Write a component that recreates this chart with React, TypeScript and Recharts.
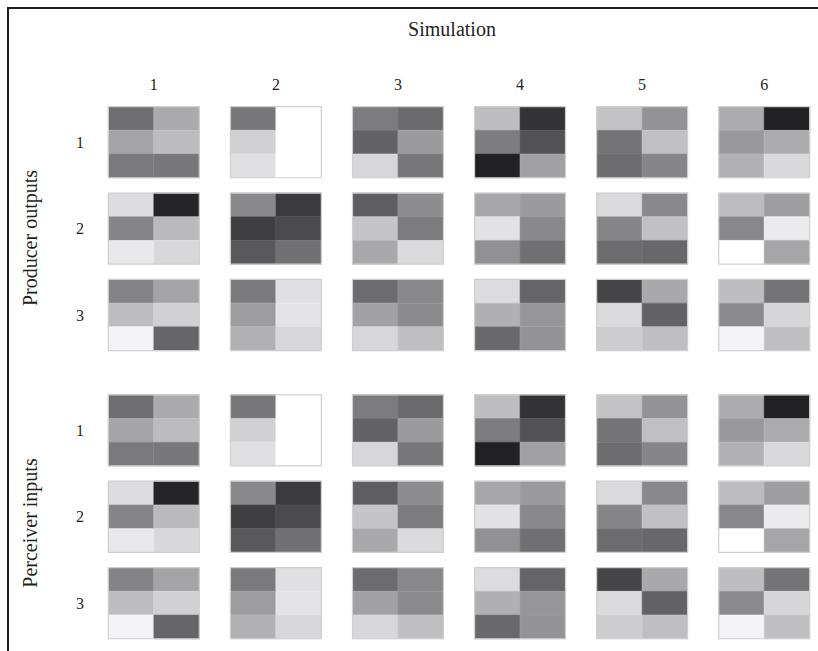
import React from "react";
import { ScatterChart, XAxis, YAxis, ReferenceArea } from "recharts";

const TITLE = "Simulation";
const COLUMNS = ["1", "2", "3", "4", "5", "6"];
const ROW_LABELS = ["1", "2", "3"];
const BLOCK_LABELS = ["Producer outputs", "Perceiver inputs"];

// each cell: 3x2 gray levels (0 = black, 255 = white), row-major
// [top-left, top-right, mid-left, mid-right, bottom-left, bottom-right]
const PRODUCER_ROW_1 = [
  [110, 170, 165, 188, 122, 120],
  [120, 255, 208, 255, 224, 255],
  [124, 107, 99, 155, 215, 120],
  [190, 51, 125, 82, 33, 161],
  [195, 147, 116, 192, 109, 134],
  [172, 33, 153, 171, 177, 217],
];
const PRODUCER_ROW_2 = [
  [221, 37, 133, 186, 232, 216],
  [137, 59, 63, 75, 89, 113],
  [94, 141, 197, 124, 169, 218],
  [167, 155, 226, 137, 145, 112],
  [218, 137, 134, 193, 108, 104],
  [189, 158, 136, 235, 255, 166],
];
const PRODUCER_ROW_3 = [
  [132, 164, 189, 208, 243, 102],
  [122, 224, 157, 227, 177, 215],
  [108, 136, 162, 139, 215, 191],
  [220, 101, 176, 150, 105, 147],
  [69, 169, 219, 99, 205, 191],
  [190, 116, 139, 214, 243, 191],
];
// perceiver gets exactly what the producer sent
const PERCEIVER_ROW_1 = PRODUCER_ROW_1;
const PERCEIVER_ROW_2 = PRODUCER_ROW_2;
const PERCEIVER_ROW_3 = PRODUCER_ROW_3;

const BLOCKS = [
  [PRODUCER_ROW_1, PRODUCER_ROW_2, PRODUCER_ROW_3],
  [PERCEIVER_ROW_1, PERCEIVER_ROW_2, PERCEIVER_ROW_3],
];

// layout in axis units
const BLOCK_STEP = 3.335;
const CELL_W = 0.745;
const CELL_H = 0.823;

const FONT = '"Liberation Serif", "Times New Roman", serif';
const INK = "#231f20";

const gray = (v: number) => `rgb(${v},${v},${Math.min(255, v + 2)})`;

const ROW_TICKS = BLOCKS.flatMap((_, b) => ROW_LABELS.map((__, r) => b * BLOCK_STEP + r));

export default function App() {
  const squares: React.ReactNode[] = [];
  const frames: React.ReactNode[] = [];
  BLOCKS.forEach((rows, b) =>
    rows.forEach((cells, r) =>
      cells.forEach((vals, c) => {
        const cx = c - CELL_W / 2;
        const cy = b * BLOCK_STEP + r - CELL_H / 2;
        vals.forEach((v, k) => {
          const x1 = cx + ((k % 2) * CELL_W) / 2;
          const y1 = cy + (Math.floor(k / 2) * CELL_H) / 3;
          squares.push(
            <ReferenceArea
              key={`s-${b}-${r}-${c}-${k}`}
              x1={x1}
              x2={x1 + CELL_W / 2}
              y1={y1}
              y2={y1 + CELL_H / 3}
              fill={gray(v)}
              fillOpacity={1}
              stroke={gray(Math.min(255, v + 10))}
              strokeWidth={0.6}
              ifOverflow="visible"
            />
          );
        });
        frames.push(
          <ReferenceArea
            key={`f-${b}-${r}-${c}`}
            x1={cx}
            x2={cx + CELL_W}
            y1={cy}
            y2={cy + CELL_H}
            fill="none"
            stroke="#cfcfd1"
            strokeWidth={1.2}
            ifOverflow="visible"
          />
        );
      })
    )
  );

  return (
    <div
      style={{
        position: "fixed",
        top: 7,
        left: 7,
        width: 811,
        height: 644,
        overflow: "hidden",
        borderTop: `2px solid ${INK}`,
        borderLeft: `2px solid ${INK}`,
        background: "#fff",
        fontFamily: FONT,
        color: INK,
      }}
    >
      <div
        style={{
          position: "absolute",
          left: 443,
          top: 10,
          transform: "translateX(-50%)",
          fontSize: 20,
          lineHeight: 1,
          whiteSpace: "nowrap",
        }}
      >
        {TITLE}
      </div>
      {BLOCK_LABELS.map((label, b) => (
        <div
          key={label}
          style={{
            position: "absolute",
            left: 21,
            top: 229 + b * 285,
            transform: "translate(-50%, -50%) rotate(-90deg)",
            fontSize: 20,
            lineHeight: 1,
            whiteSpace: "nowrap",
          }}
        >
          {label}
        </div>
      ))}
      <ScatterChart width={806} height={644} margin={{ top: 60, right: 2, bottom: 1, left: 36 }}>
        <XAxis
          type="number"
          dataKey="x"
          orientation="top"
          domain={[-0.4, 5.4]}
          ticks={COLUMNS.map((_, i) => i)}
          tickFormatter={(v: number) => COLUMNS[Math.round(v)]}
          interval={0}
          height={30}
          axisLine={false}
          tickLine={false}
          tickMargin={3}
          tick={{ fill: INK, fontSize: 16, fontFamily: FONT }}
          allowDataOverflow
        />
        <YAxis
          type="number"
          dataKey="y"
          reversed
          domain={[-0.5, 5.9]}
          ticks={ROW_TICKS}
          tickFormatter={(v: number) => ROW_LABELS[Math.round(v % BLOCK_STEP)]}
          interval={0}
          width={60}
          axisLine={false}
          tickLine={false}
          tickMargin={15}
          tick={{ fill: INK, fontSize: 16, fontFamily: FONT }}
          allowDataOverflow
        />
        {squares}
        {frames}
      </ScatterChart>
    </div>
  );
}
